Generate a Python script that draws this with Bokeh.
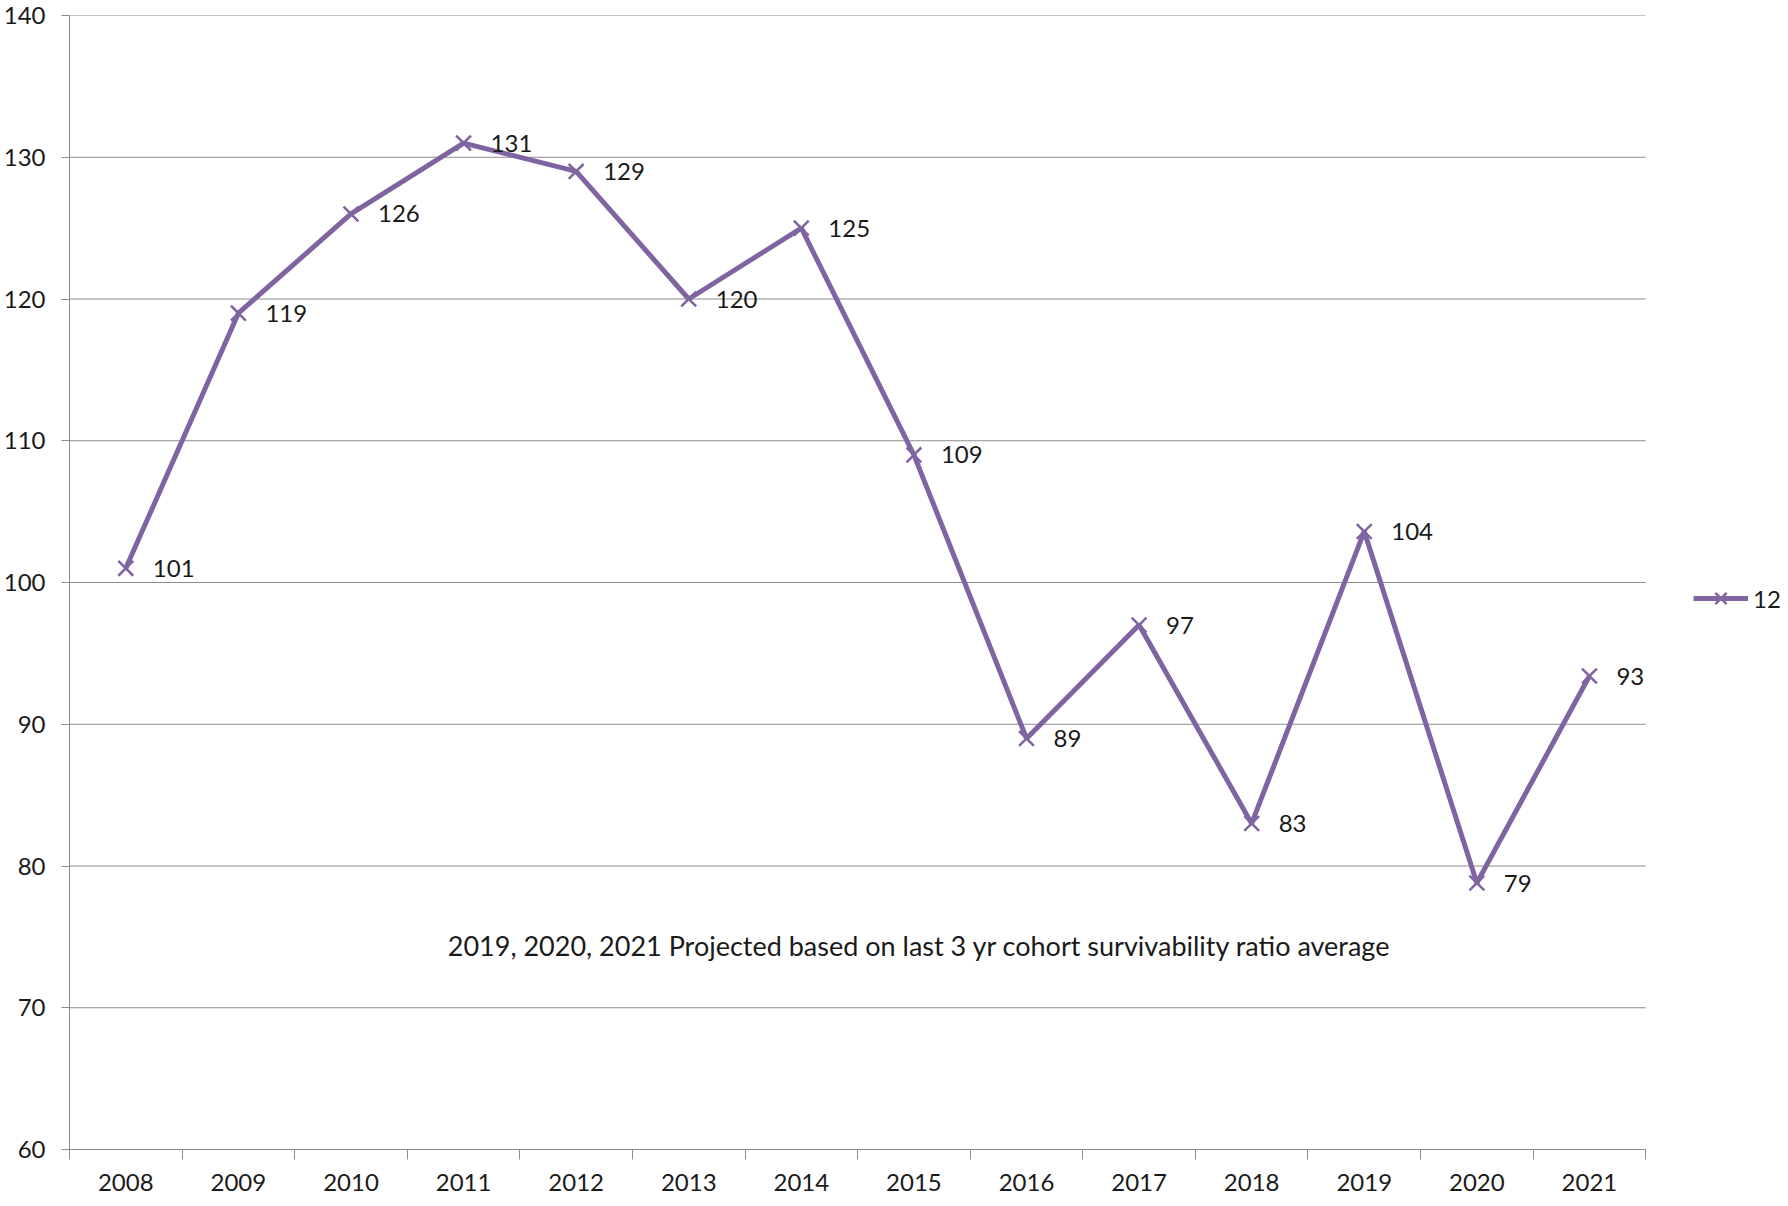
from bokeh.plotting import figure
from bokeh.models import FixedTicker, Legend, LegendItem, ColumnDataSource, Label, Range1d
from bokeh.embed import file_html
from bokeh.resources import INLINE
from bokeh.core.properties import value

years = [2008, 2009, 2010, 2011, 2012, 2013, 2014, 2015, 2016, 2017, 2018, 2019, 2020, 2021]
counts = [101, 119, 126, 131, 129, 120, 125, 109, 89, 97, 83, 103.6, 78.8, 93.4]
labels = ["101", "119", "126", "131", "129", "120", "125", "109", "89", "97", "83", "104", "79", "93"]
y_ticks = [60, 70, 80, 90, 100, 110, 120, 130, 140]
series_name = "12"
note = "2019, 2020, 2021 Projected based on last 3 yr cohort survivability ratio average"

FONT = "Lato"
PURPLE = "#8064A2"
GRID = "#8c8c8c"
TXT = "#1a1a1a"

x0 = years[0] - 0.5
x1 = years[-1] + 0.5
cat_px = 1579 / len(years)          # pixel width of one year slot
frame_px = 1780 - 66                # frame reaches the right page edge
x_end = x0 + frame_px / cat_px

src = ColumnDataSource(dict(x=years, y=counts, lab=labels))

p = figure(width=1780, height=1196, output_backend="svg", toolbar_location=None,
           x_range=Range1d(x0, x_end),
           y_range=Range1d(y_ticks[0], y_ticks[-1]),
           min_border_left=66, min_border_top=15, min_border_right=0, min_border_bottom=47)
p.outline_line_color = None
p.background_fill_color = "white"

# horizontal grid lines limited to the plotting area
p.segment(x0=[x0] * len(y_ticks), x1=[x1] * len(y_ticks), y0=y_ticks, y1=y_ticks,
          line_color=GRID, line_width=1)
p.xgrid.grid_line_color = None
p.ygrid.grid_line_color = None

# axes
p.xaxis.bounds = (x0, x1)
p.xaxis.ticker = FixedTicker(ticks=years, minor_ticks=[y - 0.5 for y in years] + [x1])
p.xaxis.major_label_overrides = {y: str(y) for y in years}
p.xaxis.major_tick_line_color = None
p.xaxis.major_tick_out = 10
p.xaxis.major_tick_in = 0
p.xaxis.minor_tick_out = 10
p.xaxis.minor_tick_in = 0
p.xaxis.minor_tick_line_color = GRID
p.xaxis.axis_line_color = GRID
p.xaxis.major_label_standoff = 14

p.yaxis.ticker = FixedTicker(ticks=y_ticks)
p.yaxis.major_tick_out = 8
p.yaxis.major_tick_in = 0
p.yaxis.major_tick_line_color = GRID
p.yaxis.minor_tick_line_color = None
p.yaxis.axis_line_color = GRID
p.yaxis.major_label_standoff = 16

for ax in (p.xaxis, p.yaxis):
    ax.major_label_text_font = FONT
    ax.major_label_text_font_size = "24px"
    ax.major_label_text_color = TXT

line = p.line("x", "y", source=src, line_color=PURPLE, line_width=5)
pts = p.scatter("x", "y", source=src, marker="x", size=21, line_color=PURPLE, line_width=2.5)

p.text("x", "y", text="lab", source=src, x_offset=27, text_baseline="middle", text_align="left",
       text_font=value(FONT), text_font_size="24px", text_color=TXT)

p.add_layout(Label(x=2015.05, y=74.4, text=note, text_align="center", text_baseline="middle",
                   text_font=FONT, text_font_size="27px", text_color=TXT))

legend = Legend(items=[LegendItem(label=series_name, renderers=[line, pts])],
                location=(1624, 531), border_line_color=None, background_fill_alpha=0,
                glyph_width=55, glyph_height=40, label_standoff=5, padding=0, margin=0,
                label_text_font=FONT, label_text_font_size="24px", label_text_color=TXT)
p.add_layout(legend)

open("out.html", "w").write(file_html(p, INLINE))
